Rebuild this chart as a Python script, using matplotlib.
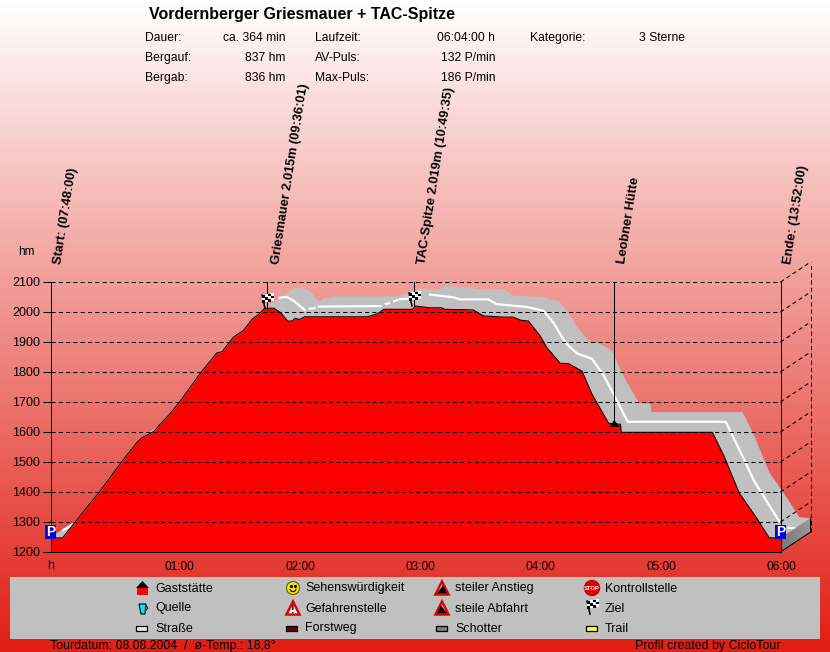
import matplotlib
matplotlib.use("Agg")
import matplotlib.pyplot as plt
import numpy as np
from matplotlib.collections import PolyCollection
from matplotlib.colors import LinearSegmentedColormap
from matplotlib.patches import Circle, Polygon, Rectangle

plt.rcParams['font.family'] = ['Liberation Sans', 'DejaVu Sans']

W, H = 830, 652

# elevation profile, minutes / metres
profile_min = [0, 6, 14.7, 24.7, 35.5, 43, 45.5, 51.3, 59.7, 64.7, 74.7, 83, 85.5, 91.3, 96.3,
               100.5, 103.8, 106.7, 111.3, 114.7, 118.3, 120.5, 122, 124, 126.7, 158, 163,
               166.3, 180.5, 182, 189, 195, 196.7, 210.8, 215.8, 225.8, 230.8, 234.2, 238.3,
               244.2, 247.5, 254.2, 258.3, 265, 270, 278.3, 284.2, 284.5, 330, 335.8, 343.3,
               352.5, 358.3, 364]
profile_hm = [1247, 1247, 1320, 1403, 1501, 1564, 1581, 1601, 1662, 1703, 1796, 1864, 1868, 1917, 1939,
              1976, 1992, 2012, 2013, 1998, 1970, 1970, 1979, 1975, 1984, 1984, 1994,
              2009, 2009, 2020, 2014, 2014, 2009, 2007, 1987, 1983, 1983, 1973, 1970,
              1920, 1881, 1829, 1828, 1803, 1726, 1629, 1626, 1599, 1599, 1520, 1398,
              1309, 1248, 1245]

# white centre line of the road, breaks where the picture has gaps
road_min = [6.3, 10.5, np.nan, 114.3, 118, 121.3, 126.7, np.nan, 129.3, 131.7, np.nan, 133.8, 164.7, np.nan,
            167.2, 168.8, np.nan, 171.3, 173, np.nan, 174.3, 178.8, np.nan, 189.2, 200.8, 204.2, 218.3,
            222.5, 237.5, 245.8, 250.8, 256.7, 262.5, 270, 275.8, 280.8, 287.8, 336.7, 345.8, 350.8,
            363.3, np.nan, 368, 371.5]
road_hm = [1273, 1289, np.nan, 2048, 2050, 2037, 2007, np.nan, 2011, 2013, np.nan, 2018, 2020, np.nan,
           2027, 2029, np.nan, 2036, 2040, np.nan, 2043, 2044, np.nan, 2058, 2049, 2042, 2042,
           2026, 2017, 2004, 1964, 1898, 1862, 1844, 1789, 1726, 1634, 1634, 1509, 1437,
           1303, np.nan, 1281, 1278]

hm_ticks = [1200, 1300, 1400, 1500, 1600, 1700, 1800, 1900, 2000, 2100]
hour_ticks = [60, 120, 180, 240, 300, 360]
hour_labels = ['01:00', '02:00', '03:00', '04:00', '05:00', '06:00']

# waypoint labels and their time on the axis
way_labels = ['Start: (07:48:00)', 'Griesmauer 2.015m (09:36:01)', 'TAC-Spitze 2.019m (10:49:35)',
              'Leobner Hütte', 'Ende: (13:52:00)']
way_min = [0, 108, 181.5, 281, 364]
way_hm = [1200, 2010, 2020, 1625, 1200]

info_left = ['Dauer:', 'Bergauf:', 'Bergab:']
info_left_val = ['ca. 364 min', '837 hm', '836 hm']
info_mid = ['Laufzeit:', 'AV-Puls:', 'Max-Puls:']
info_mid_val = ['06:04:00 h', '132 P/min', '186 P/min']

legend_labels = [['Gaststätte', 'Sehenswürdigkeit', 'steiler Anstieg', 'Kontrollstelle'],
                 ['Quelle', 'Gefahrenstelle', 'steile Abfahrt', 'Ziel'],
                 ['Straße', 'Forstweg', 'Schotter', 'Trail']]

DEPTH_MIN = 15
DEPTH_HM = 66.7
THIN = 0.75


def draw_flag(ax, x, y):
    # x, y = foot of the pole, in pixels; pole leans back to the left
    ax.plot([x, x - 3], [y, y - 13], color='black', lw=1.1, zorder=9)
    for i in range(4):
        for j in range(3):
            c = 'black' if (i + j) % 2 == 0 else 'white'
            x0 = x - 3 + i * 3
            y0 = y - 13 + j * 2.7 - i * 0.7
            ax.add_patch(Rectangle((x0, y0), 3, 2.7, fc=c, ec='none', zorder=9))


def draw_parking(ax, x, y):
    ax.add_patch(Rectangle((x - 5.5, y - 7), 11, 14, fc='#0000e0', ec='none', zorder=9))
    ax.text(x, y + 0.3, 'P', color='white', fontsize=10, fontweight='bold', ha='center', va='center', zorder=10)


def draw_warning(ax, x, y, fill=None):
    ax.add_patch(Polygon([(x, y - 6.5), (x - 6.5, y + 6.5), (x + 6.5, y + 6.5)], fc='white', ec='#e00000', lw=1.8, zorder=5))
    if fill == 'up':
        ax.add_patch(Polygon([(x - 5, y + 5.5), (x + 5, y + 5.5), (x + 1, y - 3)], fc='black', ec='none', zorder=6))
    elif fill == 'down':
        ax.add_patch(Polygon([(x - 5, y + 5.5), (x + 5, y + 5.5), (x - 1, y - 3)], fc='black', ec='none', zorder=6))
    else:
        ax.text(x, y + 2, '!', color='black', fontsize=8, fontweight='bold', ha='center', va='center', zorder=6)


def draw_swatch(ax, x, y, color):
    ax.add_patch(Rectangle((x - 5.5, y - 2.5), 11, 5, fc=color, ec='black', lw=0.9, zorder=5))


fig = plt.figure(figsize=(W / 100, H / 100), dpi=100)

# page background
bg = fig.add_axes([0, 0, 1, 1], zorder=0)
cmap = LinearSegmentedColormap.from_list('page', ['#ffffff', '#e01e14'])
bg.imshow(np.linspace(0, 1, H).reshape(-1, 1), aspect='auto', cmap=cmap, extent=[0, W, H, 0])
bg.set_xlim(0, W)
bg.set_ylim(H, 0)
bg.axis('off')

ax = fig.add_axes([50.5 / W, (H - 552) / H, 730 / W, 270 / H], zorder=1)
ax.patch.set_alpha(0)
ax.set_xlim(0, 364)
ax.set_ylim(1200, 2100)

t = np.array(profile_min)
e = np.array(profile_hm)

# road surface, swept back into the picture
quads = []
for i in range(len(t) - 1):
    quads.append([(t[i], e[i]), (t[i + 1], e[i + 1]),
                  (t[i + 1] + DEPTH_MIN, e[i + 1] + DEPTH_HM), (t[i] + DEPTH_MIN, e[i] + DEPTH_HM)])
ax.add_collection(PolyCollection(quads, facecolors='#c0c0c0', edgecolors='#c0c0c0', linewidths=0.5,
                                 zorder=2, clip_on=False))
ax.plot(road_min, road_hm, color='white', lw=1.6, zorder=3, clip_on=False)

# side of the base slab, a few strips for the shading
slab_cmap = LinearSegmentedColormap.from_list('slab', ['#787878', '#9c9c9c'])
end_t, end_e = t[-1], e[-1]
strips = []
strip_cols = []
for i in range(20):
    a, b = i / 20, (i + 1) / 20
    strips.append([(end_t + a * DEPTH_MIN, 1200 + a * DEPTH_HM), (end_t + b * DEPTH_MIN, 1200 + b * DEPTH_HM),
                   (end_t + b * DEPTH_MIN, end_e + b * DEPTH_HM), (end_t + a * DEPTH_MIN, end_e + a * DEPTH_HM)])
    strip_cols.append(slab_cmap(a))
ax.add_collection(PolyCollection(strips, facecolors=strip_cols, edgecolors=strip_cols, linewidths=0.4,
                                 zorder=3.5, clip_on=False))
ax.plot([end_t, end_t + DEPTH_MIN, end_t + DEPTH_MIN], [1200, 1200 + DEPTH_HM, end_e + DEPTH_HM],
        color='black', lw=THIN, zorder=6, clip_on=False)

# profile body
ax.fill_between(t, e, 1200, color='#ff0000', lw=0, zorder=4)
ax.plot(t, e, color='black', lw=THIN, zorder=5)

# grid and the right hand wall
dash = (0, (4, 3))
for hm in hm_ticks[1:]:
    ax.plot([0, 364], [hm, hm], color='black', lw=THIN, ls=dash, zorder=6)
    ax.plot([364, 364 + DEPTH_MIN], [hm, hm + DEPTH_HM], color='black', lw=THIN, ls=dash,
            zorder=6, clip_on=False)
ax.plot([364 + DEPTH_MIN] * 2, [1200 + DEPTH_HM, 2100 + DEPTH_HM], color='black', lw=THIN,
        ls=dash, zorder=6, clip_on=False)

# way point leaders
for m, hm in zip(way_min[1:], way_hm[1:]):
    ax.plot([m, m], [hm, 2100], color='black', lw=THIN, zorder=6, clip_on=False)

for s in ['top', 'right']:
    ax.spines[s].set_visible(False)
for s in ['left', 'bottom']:
    ax.spines[s].set_zorder(7)
    ax.spines[s].set_linewidth(THIN)

ax.set_yticks(hm_ticks)
ax.tick_params(axis='y', length=6, width=THIN, pad=1.5, labelsize=9)
ax.set_xticks(hour_ticks)
ax.set_xticklabels([])
ax.set_xticks(np.arange(7.5, 364, 7.5), minor=True)
ax.tick_params(axis='x', which='major', direction='in', length=3, width=THIN)
ax.tick_params(axis='x', which='minor', direction='in', length=2, width=0.6)

for m, lab in zip(hour_ticks, hour_labels):
    ax.annotate(lab, (m, 1200), xytext=(-6, -9), textcoords='offset pixels', ha='left', va='top', fontsize=8.6)

# overlay in pixel coordinates for header, waypoint text and legend
px = fig.add_axes([0, 0, 1, 1], zorder=2)
px.patch.set_alpha(0)
px.set_xlim(0, W)
px.set_ylim(H, 0)
px.axis('off')

px.text(149, 14, 'Vordernberger Griesmauer + TAC-Spitze', fontsize=11.5, fontweight='bold', va='center')
row_y = [38, 58, 78]
for i, y in enumerate(row_y):
    px.text(145, y, info_left[i], fontsize=8.7, va='center')
    px.text(285, y, info_left_val[i], fontsize=8.7, va='center', ha='right')
    px.text(315, y, info_mid[i], fontsize=8.7, va='center')
    px.text(495, y, info_mid_val[i], fontsize=8.7, va='center', ha='right')
px.text(530, 38, 'Kategorie:', fontsize=8.7, va='center')
px.text(685, 38, '3 Sterne', fontsize=8.7, va='center', ha='right')

px.text(18, 252, 'hm', fontsize=8.5, va='center')
px.text(47, 566, 'h', fontsize=8.8, va='center')

way_x = [52, 270, 416, 616, 782]
for x, lab in zip(way_x, way_labels):
    px.text(x, 263, lab, rotation=81, rotation_mode='anchor', fontsize=9.3, fontweight='bold',
            ha='left', va='top')

draw_flag(px, 265, 308)
draw_flag(px, 412, 306)
draw_parking(px, 50.5, 532)
draw_parking(px, 780.5, 532)
px.add_patch(Polygon([(609, 427), (619.5, 427), (614.3, 420)], fc='black', ec='none', zorder=8))

# legend box
px.add_patch(Rectangle((10, 577), 810, 62, fc='#c0c0c0', ec='none', zorder=1))
label_x = [155, 305, 455, 605]
rows = [588.5, 608.5, 628.5]
for r, y in enumerate(rows):
    for c in range(4):
        px.text(label_x[c], y, legend_labels[r][c], fontsize=9, va='center', zorder=5)

# Gaststaette
px.add_patch(Rectangle((137, 588), 11, 7, fc='#ff0000', ec='none', zorder=5))
px.add_patch(Polygon([(136, 588), (149, 588), (142.5, 581)], fc='black', ec='none', zorder=5))
# Quelle
px.add_patch(Polygon([(139, 604), (146, 604), (145, 614), (141, 614)], fc='#00e8ff', ec='black', lw=0.8, zorder=5))
px.plot([146, 148, 146], [606, 608, 610], color='black', lw=0.7, zorder=5)
# Sehenswuerdigkeit
px.add_patch(Circle((293, 588), 6.5, fc='#ffe000', ec='#606000', lw=0.8, zorder=5))
px.plot([291, 295], [586, 586], ls='none', marker='.', ms=2.5, color='black', zorder=6)
px.plot([290, 291.5, 294.5, 296], [589.5, 591.5, 591.5, 589.5], color='black', lw=0.8, zorder=6)
draw_warning(px, 293, 608)
draw_warning(px, 442, 588, 'up')
draw_warning(px, 442, 608, 'down')
# Kontrollstelle
px.add_patch(Circle((592, 588), 7.5, fc='#e00000', ec='#c00000', zorder=5))
px.text(592, 588.3, 'STOP', color='white', fontsize=4.2, fontweight='bold', ha='center', va='center', zorder=6)
draw_flag(px, 590, 614)
draw_swatch(px, 141, 628, '#e8e8e8')
draw_swatch(px, 291, 628, '#700000')
draw_swatch(px, 441, 628, '#808080')
draw_swatch(px, 591, 628, '#ffff40')

px.text(50, 646, 'Tourdatum: 08.08.2004  /  ø-Temp.: 18,8°', fontsize=8.9, va='center')
px.text(780, 646, 'Profil created by CicloTour', fontsize=8.9, va='center', ha='right')

fig.savefig('out.png', dpi=100)
